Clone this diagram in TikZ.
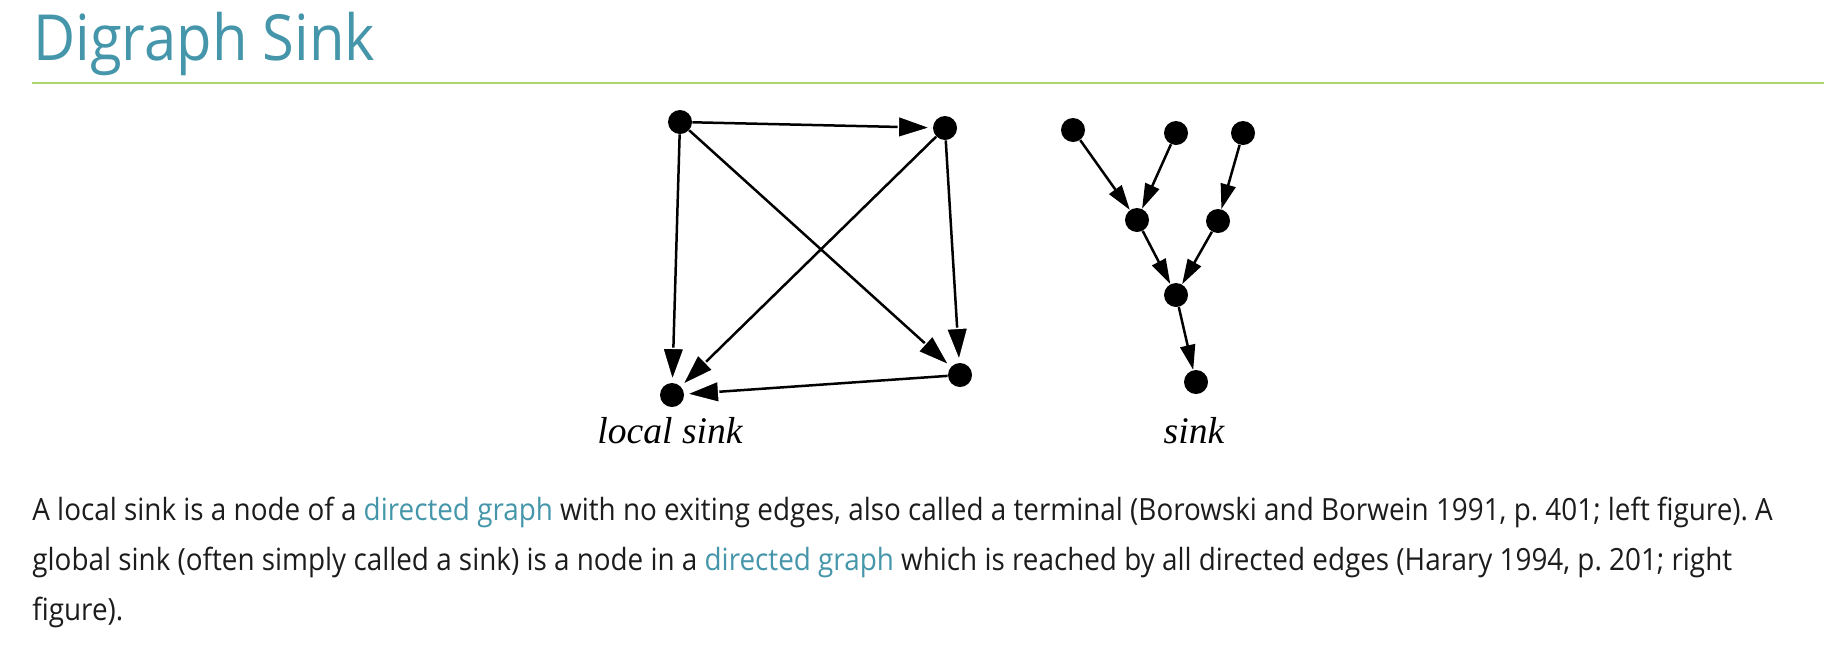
\documentclass[tikz,border=0pt]{standalone}
\usepackage{fontspec}
\setmainfont{Liberation Serif}
\newfontfamily\websans[FakeStretch=0.91]{Open Sans}
\usepackage{xcolor}
\definecolor{headteal}{HTML}{4596AA}
\definecolor{rulegreen}{HTML}{AAD86E}
\definecolor{bodyink}{HTML}{1C1C1C}
\usetikzlibrary{arrows.meta}

\begin{document}
\frenchspacing
\begin{tikzpicture}[x=0.5pt, y=-0.5pt,
  vertex/.style={circle, fill=black, inner sep=0pt, minimum size=12pt},
  bigedge/.style={line width=1.25pt,
    -{Triangle[length=17.5pt, width=11.5pt, line width=0.7pt, color=white, fill=black]}},
  smalledge/.style={line width=1.25pt, -{Triangle[length=12.5pt, width=7.5pt]}},
  bodyline/.style={anchor=base west, inner sep=0pt, text=bodyink,
    font=\websans\fontsize{15.3}{18}\selectfont},
  figcaption/.style={anchor=base, inner sep=0pt,
    font=\itshape\fontsize{18.8}{22}\selectfont}]
  \useasboundingbox (0,0) rectangle (1846,654);

  % heading and rule
  \node[anchor=base west, inner sep=0pt, text=headteal,
    font=\websans\fontsize{31.8}{38}\selectfont] (title) at (33,60) {Digraph Sink};
  \coordinate (rulel) at (32,83);
  \coordinate (ruler) at (1824,83);
  \draw[rulegreen, line width=1pt] (rulel) -- (ruler);

  % left figure: local sink
  \node[vertex] (tl) at (680,122) {};
  \node[vertex] (tr) at (945,128) {};
  \node[vertex] (br) at (960,375) {};
  \node[vertex] (bl) at (672,395) {};
  \draw[bigedge] (tl) -- (tr);
  \draw[bigedge] (tl) -- (bl);
  \draw[bigedge] (tl) -- (br);
  \draw[bigedge] (tr) -- (bl);
  \draw[bigedge] (tr) -- (br);
  \draw[bigedge] (br) -- (bl);
  \node[figcaption] (localcap) at (670,443) {local sink};

  % right figure: sink
  \node[vertex] (top1) at (1073,130) {};
  \node[vertex] (top2) at (1176,133) {};
  \node[vertex] (top3) at (1243,133) {};
  \node[vertex] (mid1) at (1137,220) {};
  \node[vertex] (mid2) at (1218,221) {};
  \node[vertex] (join) at (1176,295) {};
  \node[vertex] (sink) at (1196,382) {};
  \draw[smalledge] (top1) -- (mid1);
  \draw[smalledge] (top2) -- (mid1);
  \draw[smalledge] (top3) -- (mid2);
  \draw[smalledge] (mid1) -- (join);
  \draw[smalledge] (mid2) -- (join);
  \draw[smalledge] (join) -- (sink);
  \node[figcaption] (sinkcap) at (1194,443) {sink};

  % description
  \node[bodyline] (line1) at (32,520) {A local sink is a node of a \textcolor{headteal}{directed graph} with no exiting edges, also called a terminal (Borowski and Borwein 1991, p.~401; left figure). A};
  \node[bodyline] (line2) at (32,570) {global sink (often simply called a sink) is a node in a \textcolor{headteal}{directed graph} which is reached by all directed edges (Harary 1994, p.~201; right};
  \node[bodyline] (line3) at (32,620) {figure).};
\end{tikzpicture}
\end{document}
